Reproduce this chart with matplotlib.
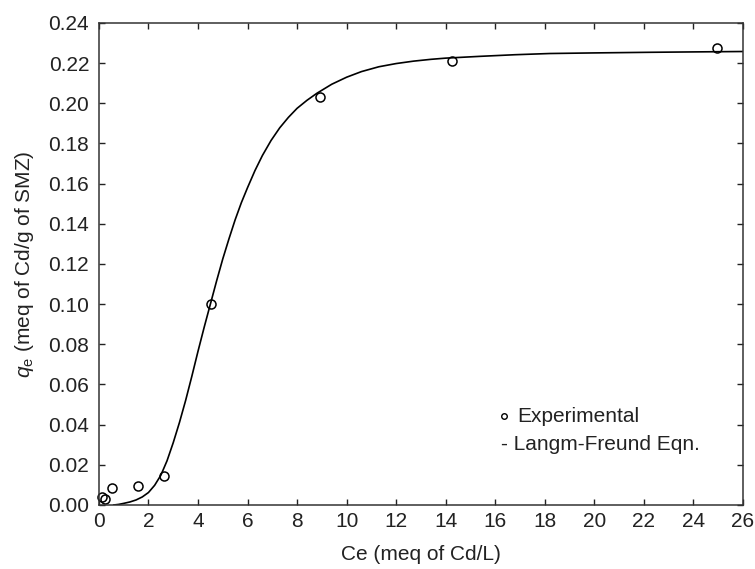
import matplotlib
matplotlib.use("Agg")
import matplotlib.pyplot as plt

plt.rcParams["font.family"] = ["Liberation Sans", "DejaVu Sans"]
plt.rcParams["mathtext.fontset"] = "custom"
plt.rcParams["mathtext.rm"] = "Liberation Sans"
plt.rcParams["mathtext.it"] = "Liberation Sans:italic"

# Experimental points (Ce, qe)
exp_ce = [0.11, 0.24, 0.51, 1.57, 2.62, 4.52, 8.92, 14.26, 24.94]
exp_qe = [0.0041, 0.0030, 0.0083, 0.0095, 0.0146, 0.1000, 0.2033, 0.2213, 0.2274]

# Langmuir-Freundlich fitted curve
fit_ce = [0.6, 0.8, 1.0, 1.25, 1.5, 1.75, 2.0, 2.25, 2.5, 2.75, 3.0, 3.25,
          3.5, 3.75, 4.0, 4.25, 4.5, 4.75, 5.0, 5.25, 5.5, 5.75, 6.0, 6.3,
          6.6, 6.95, 7.3, 7.65, 8.0, 8.4, 8.8, 9.4, 10.0, 10.6, 11.3, 12.0,
          12.7, 13.4, 14.0, 15.4, 16.8, 18.2, 20.0, 22.2, 24.0, 26.0]
fit_qe = [0.0, 0.0003, 0.0008, 0.0015, 0.0025, 0.0040, 0.0062, 0.0098,
          0.0148, 0.0220, 0.0310, 0.0410, 0.0520, 0.0640, 0.0765, 0.0885,
          0.1000, 0.1115, 0.1225, 0.1325, 0.1420, 0.1505, 0.1580, 0.1665,
          0.1740, 0.1815, 0.1878, 0.1930, 0.1975, 0.2015, 0.2050, 0.2095,
          0.2130, 0.2158, 0.2182, 0.2198, 0.2210, 0.2219, 0.2225, 0.2234,
          0.2242, 0.2248, 0.2251, 0.2254, 0.2256, 0.2258]

x_ticks = list(range(0, 27, 2))
y_ticks = [i * 0.02 for i in range(13)]

fg = "#222222"
fs = 15

fig = plt.figure(figsize=(7.55, 5.69), dpi=100, facecolor="white")
ax = fig.add_axes([0.131, 0.1125, 0.853, 0.8471])

ax.plot(fit_ce, fit_qe, color="black", lw=1.2)
ax.plot(exp_ce, exp_qe, linestyle="none", marker="o", markersize=6.5,
        markerfacecolor="none", markeredgecolor="black", markeredgewidth=1.1,
        clip_on=False)

ax.set_xlim(0, 26)
ax.set_ylim(0, 0.24)
ax.set_xticks(x_ticks)
ax.set_yticks(y_ticks)
ax.set_yticklabels([f"{v:.2f}" for v in y_ticks])
ax.tick_params(direction="in", length=4, width=1, top=True, right=True,
               labelsize=fs, colors=fg)
ax.tick_params(axis="x", pad=5)
ax.tick_params(axis="y", pad=7)
for spine in ax.spines.values():
    spine.set_color("#333333")
    spine.set_linewidth(1.1)

ax.set_xlabel("Ce (meq of Cd/L)", fontsize=fs, color=fg, labelpad=10)
ax.set_ylabel(r"$q_{\mathrm{e}}$ (meq of Cd/g of SMZ)", fontsize=fs,
              color=fg, labelpad=9)

# legend written as text, as in the original figure
ax.plot([0.629], [0.1846], transform=ax.transAxes, marker="o",
        markersize=4, markerfacecolor="none", markeredgecolor="black",
        markeredgewidth=1)
ax.text(0.649, 0.1846, "Experimental", transform=ax.transAxes,
        fontsize=fs, color=fg, va="center", ha="left")
ax.text(0.624, 0.1245, "- Langm-Freund Eqn.", transform=ax.transAxes,
        fontsize=fs, color=fg, va="center", ha="left")

fig.savefig("out.png", dpi=100)
